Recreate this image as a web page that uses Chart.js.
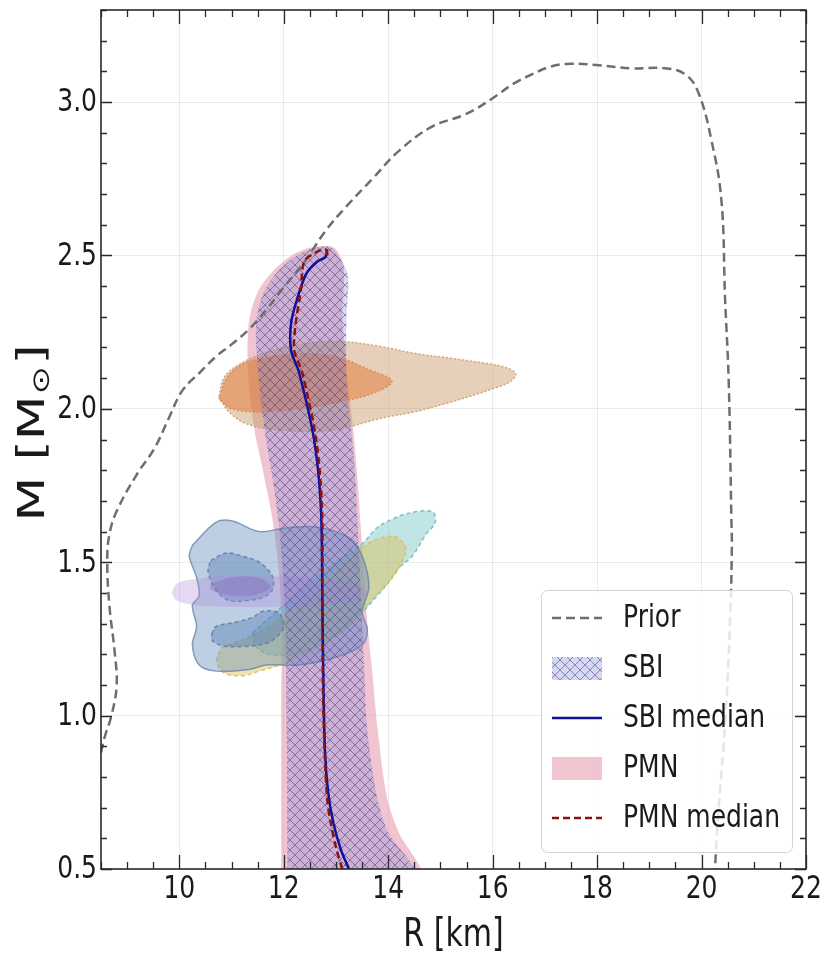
<!DOCTYPE html>
<html>
<head>
<meta charset="utf-8">
<script src="https://cdn.jsdelivr.net/npm/chart.js@4.4.1/dist/chart.umd.min.js"></script>
<style>
  html, body { margin: 0; padding: 0; background: #fff; }
</style>
</head>
<body>
<canvas id="mr" width="826" height="955"></canvas>
<script>
// --- Axis ticks ---
const xMajor = [10, 12, 14, 16, 18, 20, 22];
const yMajor = [0.5, 1.0, 1.5, 2.0, 2.5, 3.0];

// --- Curves, [R km, M Msun] ---
const priorCurve = [
  [8.5, 0.88], [8.57, 0.93], [8.7, 1.0], [8.8, 1.1], [8.76, 1.21], [8.66, 1.36], [8.62, 1.5],
  [8.66, 1.59], [8.81, 1.67], [9.2, 1.79], [9.52, 1.87], [9.8, 1.97], [10.06, 2.06], [10.4, 2.12],
  [10.7, 2.17], [11.0, 2.21], [11.34, 2.26], [11.7, 2.33], [11.97, 2.39], [12.4, 2.48], [12.8, 2.58],
  [13.2, 2.66], [13.7, 2.75], [14.2, 2.84], [14.84, 2.92], [15.48, 2.96], [15.98, 3.01], [16.4, 3.06],
  [16.75, 3.09], [17.1, 3.115], [17.5, 3.125], [18.03, 3.12], [18.67, 3.11], [19.3, 3.11],
  [19.69, 3.09], [19.94, 3.03], [20.19, 2.875], [20.38, 2.68], [20.45, 2.36], [20.52, 2.09],
  [20.57, 1.65], [20.58, 1.55], [20.55, 1.33], [20.46, 1.0], [20.32, 0.68], [20.25, 0.48]
];

const pmnLeft = [
  [11.95, 0.48], [11.95, 1.0], [11.95, 1.36], [11.82, 1.6], [11.6, 1.8], [11.45, 1.92], [11.32, 2.1],
  [11.33, 2.28], [11.5, 2.38], [11.8, 2.45], [12.15, 2.5], [12.5, 2.525], [12.85, 2.53]
];
const pmnRight = [
  [13.0, 2.52], [13.15, 2.46], [13.12, 2.3], [13.22, 2.1], [13.32, 1.95], [13.4, 1.8], [13.48, 1.6],
  [13.6, 1.3], [13.69, 1.15], [13.8, 0.95], [13.98, 0.73], [14.2, 0.62], [14.6, 0.48]
];
const sbiLeft = [
  [12.07, 0.48], [12.05, 1.0], [12.02, 1.36], [11.92, 1.6], [11.78, 1.78], [11.66, 1.9], [11.52, 2.1],
  [11.47, 2.28], [11.62, 2.38], [11.9, 2.45], [12.25, 2.5], [12.6, 2.525], [12.85, 2.53]
];
const sbiRight = [
  [12.95, 2.52], [13.22, 2.44], [13.2, 2.3], [13.2, 2.1], [13.28, 1.95], [13.36, 1.8], [13.42, 1.6],
  [13.5, 1.3], [13.54, 1.15], [13.6, 0.95], [13.79, 0.73], [14.0, 0.62], [14.5, 0.48]
];

const sbiMedian = [
  [13.25, 0.5], [13.1, 0.56], [12.95, 0.65], [12.85, 0.75], [12.79, 0.88], [12.76, 1.1], [12.74, 1.36],
  [12.71, 1.68], [12.58, 1.9], [12.29, 2.12], [12.14, 2.19], [12.14, 2.28], [12.26, 2.36],
  [12.43, 2.44], [12.64, 2.48], [12.8, 2.495], [12.83, 2.52]
];
const pmnMedian = [
  [13.12, 0.5], [13.0, 0.57], [12.9, 0.65], [12.83, 0.73], [12.78, 0.9], [12.75, 1.1], [12.74, 1.36],
  [12.73, 1.68], [12.62, 1.9], [12.35, 2.12], [12.2, 2.19], [12.23, 2.28], [12.33, 2.39],
  [12.39, 2.48], [12.62, 2.51], [12.8, 2.52], [12.85, 2.49]
];

// --- Observational contours ---
const orangeOuter = [
  [10.76, 2.04], [10.85, 2.1], [11.1, 2.14], [11.6, 2.18], [12.3, 2.21], [13.0, 2.22], [13.8, 2.205],
  [14.53, 2.18], [15.2, 2.165], [15.8, 2.15], [16.25, 2.135], [16.44, 2.115], [16.35, 2.09],
  [16.0, 2.065], [15.16, 2.02], [14.5, 1.99], [13.88, 1.97], [12.93, 1.93], [11.97, 1.93],
  [11.3, 1.95], [10.95, 1.99]
];
const orangeInner = [
  [10.76, 2.03], [10.9, 2.1], [11.2, 2.145], [11.6, 2.165], [12.3, 2.18], [13.0, 2.17], [13.6, 2.13],
  [14.07, 2.09], [13.7, 2.05], [13.0, 2.02], [12.3, 2.0], [11.5, 1.99], [11.0, 2.0]
];
const tealRegion = [
  [11.4, 1.27], [11.8, 1.33], [12.4, 1.42], [13.0, 1.5], [13.5, 1.56], [13.77, 1.61], [14.07, 1.64],
  [14.4, 1.66], [14.84, 1.665], [14.9, 1.63], [14.72, 1.59], [14.46, 1.52], [14.2, 1.48],
  [13.96, 1.425], [13.63, 1.36], [13.3, 1.3], [12.8, 1.24], [12.2, 1.2], [11.7, 1.2], [11.45, 1.23]
];
const yellowRegion = [
  [10.8, 1.22], [11.5, 1.27], [12.3, 1.36], [13.0, 1.47], [13.6, 1.56], [14.07, 1.585], [14.3, 1.56],
  [14.34, 1.535], [14.2, 1.48], [13.96, 1.425], [13.69, 1.38], [13.3, 1.3], [12.6, 1.22],
  [12.0, 1.17], [11.53, 1.145], [11.2, 1.13], [10.85, 1.14], [10.72, 1.18]
];
const blueOuter = [
  [10.25, 1.555], [10.7, 1.63], [11.0, 1.635], [11.53, 1.6], [11.97, 1.61], [12.62, 1.615],
  [13.25, 1.58], [13.5, 1.52], [13.63, 1.42], [13.5, 1.34], [13.6, 1.28], [13.5, 1.23], [13.0, 1.19],
  [12.29, 1.165], [11.66, 1.165], [11.34, 1.15], [10.7, 1.145], [10.38, 1.165], [10.25, 1.23],
  [10.33, 1.29], [10.25, 1.36], [10.38, 1.39], [10.33, 1.45], [10.19, 1.52]
];
const blueInnerTop = [
  [10.6, 1.505], [10.9, 1.53], [11.2, 1.52], [11.53, 1.5], [11.78, 1.455], [11.78, 1.41],
  [11.6, 1.385], [11.3, 1.375], [10.95, 1.375], [10.7, 1.41], [10.55, 1.47]
];
const blueInnerBottom = [
  [10.62, 1.265], [10.7, 1.29], [11.09, 1.305], [11.4, 1.32], [11.6, 1.34], [11.9, 1.335],
  [12.0, 1.29], [11.85, 1.255], [11.66, 1.235], [11.2, 1.225], [10.82, 1.228], [10.63, 1.245]
];
const violetOuter = [
  [9.85, 1.4], [9.95, 1.43], [10.3, 1.445], [10.8, 1.455], [11.5, 1.455], [12.3, 1.45], [13.0, 1.44],
  [13.5, 1.42], [13.6, 1.4], [13.4, 1.375], [12.8, 1.36], [12.0, 1.355], [11.0, 1.355], [10.3, 1.36],
  [9.95, 1.375]
];
const violetCore = [
  [10.6, 1.43], [11.0, 1.45], [11.5, 1.45], [11.75, 1.42], [11.5, 1.395], [11.0, 1.39], [10.6, 1.41]
];

const legendLabels = ['Prior', 'SBI', 'SBI median', 'PMN', 'PMN median'];

// --- Helpers ---
const pts = arr => arr.map(([x, y]) => ({ x, y }));
const ring = arr => pts(arr.concat([arr[0]]));
const band = (left, right) => ring(left.concat(right));
const FONT = "'DejaVu Sans', sans-serif";

function makeHatch() {
  const c = document.createElement('canvas');
  c.width = 10; c.height = 10;
  const g = c.getContext('2d');
  g.fillStyle = 'rgba(110,125,215,0.3)';
  g.fillRect(0, 0, 10, 10);
  g.strokeStyle = 'rgba(80,40,115,0.5)';
  g.lineWidth = 1;
  g.beginPath();
  g.moveTo(-1, -1); g.lineTo(11, 11);
  g.moveTo(11, -1); g.lineTo(-1, 11);
  g.stroke();
  return g.createPattern(c, 'repeat');
}
const hatch = makeHatch();

function region(label, data, fill, edge, dash, order, width) {
  return {
    label, data: ring(data), showLine: true, fill: 'shape',
    backgroundColor: fill, borderColor: edge, borderWidth: width === undefined ? 1.5 : width,
    borderDash: dash, tension: 0.35, pointRadius: 0, order
  };
}

// higher order is drawn first (underneath): PMN band, contours, SBI hatch, lines
const datasets = [
  {
    label: 'PMN', data: band(pmnLeft, pmnRight), showLine: true, fill: 'shape',
    backgroundColor: 'rgba(230,150,170,0.55)', borderWidth: 0, borderColor: 'rgba(0,0,0,0)',
    tension: 0.3, pointRadius: 0, order: 40
  },
  region('orangeOuter', orangeOuter, 'rgba(200,150,100,0.45)', 'rgba(205,160,110,0.9)', [2, 2], 30),
  region('orangeInner', orangeInner, 'rgba(225,120,55,0.5)', 'rgba(220,130,80,0.8)', [2, 2], 29),
  region('tealRegion', tealRegion, 'rgba(100,190,195,0.4)', 'rgba(110,180,190,0.85)', [4, 3], 28),
  region('yellowRegion', yellowRegion, 'rgba(220,190,80,0.45)', 'rgba(220,190,90,0.9)', [4, 3], 27),
  region('blueOuter', blueOuter, 'rgba(100,140,190,0.42)', 'rgba(100,130,170,0.75)', [], 26),
  region('blueInnerTop', blueInnerTop, 'rgba(80,120,175,0.4)', 'rgba(90,120,160,0.8)', [4, 3], 25),
  region('blueInnerBottom', blueInnerBottom, 'rgba(80,120,175,0.4)', 'rgba(90,120,160,0.8)', [4, 3], 25),
  region('violetOuter', violetOuter, 'rgba(175,135,215,0.32)', 'rgba(0,0,0,0)', [], 24, 0),
  region('violetCore', violetCore, 'rgba(130,90,185,0.32)', 'rgba(0,0,0,0)', [], 23, 0),
  {
    label: 'SBI', data: band(sbiLeft, sbiRight), showLine: true, fill: 'shape',
    backgroundColor: hatch, borderWidth: 0, borderColor: 'rgba(0,0,0,0)',
    tension: 0.3, pointRadius: 0, order: 10
  },
  {
    label: 'Prior', data: pts(priorCurve), showLine: true, fill: false,
    borderColor: '#6e6e6e', borderWidth: 2.5, borderDash: [9, 5],
    tension: 0.4, pointRadius: 0, order: 5
  },
  {
    label: 'SBI median', data: pts(sbiMedian), showLine: true, fill: false,
    borderColor: '#10109a', borderWidth: 2.5, tension: 0.3, pointRadius: 0, order: 3
  },
  {
    label: 'PMN median', data: pts(pmnMedian), showLine: true, fill: false,
    borderColor: '#8c1010', borderWidth: 2.5, borderDash: [7, 4], tension: 0.3, pointRadius: 0, order: 2
  }
];

// tall, narrow text like the reference's stretched figure
function tallText(ctx, txt, x, y, align, sy) {
  ctx.save();
  ctx.translate(x, y);
  ctx.scale(1, sy);
  ctx.textAlign = align;
  ctx.fillText(txt, 0, 0);
  ctx.restore();
}

// --- Plugins ---
const inwardTicks = {
  id: 'inwardTicks',
  afterDatasetsDraw(chart) {
    const { ctx, chartArea: a, scales: { x, y } } = chart;
    ctx.save();
    ctx.strokeStyle = '#2a2a2a';
    ctx.lineWidth = 1.3;
    ctx.beginPath();
    for (let i = 0; x.min + i * 0.5 <= x.max + 1e-9; i++) {
      const v = Math.round((x.min + i * 0.5) * 10) / 10;
      const px = Math.round(x.getPixelForValue(v)) + 0.5;
      const len = xMajor.includes(v) ? 14 : 7;
      ctx.moveTo(px, a.bottom); ctx.lineTo(px, a.bottom - len);
      ctx.moveTo(px, a.top); ctx.lineTo(px, a.top + len);
    }
    for (let i = 0; y.min + i * 0.1 <= y.max + 1e-9; i++) {
      const v = Math.round((y.min + i * 0.1) * 10) / 10;
      const py = Math.round(y.getPixelForValue(v)) + 0.5;
      const len = yMajor.includes(v) ? 11 : 6;
      ctx.moveTo(a.left, py); ctx.lineTo(a.left + len, py);
      ctx.moveTo(a.right, py); ctx.lineTo(a.right - len, py);
    }
    ctx.stroke();
    ctx.lineWidth = 1.6;
    ctx.strokeRect(a.left, a.top, a.right - a.left, a.bottom - a.top);

    // tick labels from the scales' own ticks
    ctx.fillStyle = '#1a1a1a';
    ctx.font = '25px ' + FONT;
    ctx.textBaseline = 'middle';
    x.ticks.forEach(t => tallText(ctx, String(t.value), x.getPixelForValue(t.value), a.bottom + 21, 'center', 1.28));
    y.ticks.forEach(t => tallText(ctx, t.value.toFixed(1), a.left - 4, y.getPixelForValue(t.value) + 1, 'right', 1.28));
    ctx.restore();
  }
};

const legendAndTitles = {
  id: 'legendAndTitles',
  afterDraw(chart) {
    const { ctx, chartArea: a } = chart;
    const byLabel = l => chart.data.datasets.find(d => d.label === l);
    ctx.save();

    // legend box
    const w = 251, h = 262;
    const bx = a.right - 14 - w, by = a.bottom - 17 - h;
    ctx.fillStyle = 'rgba(255,255,255,0.82)';
    ctx.strokeStyle = '#d2d2d2';
    ctx.lineWidth = 1;
    ctx.beginPath();
    ctx.roundRect(bx + 0.5, by + 0.5, w, h, 6);
    ctx.fill(); ctx.stroke();

    ctx.font = '25px ' + FONT;
    ctx.textBaseline = 'middle';
    legendLabels.forEach((lab, i) => {
      const ds = byLabel(lab);
      const cy = by + 28 + i * 50;
      const x0 = bx + 11, x1 = bx + 61;
      if (ds.fill === 'shape') {
        ctx.fillStyle = ds.backgroundColor;
        ctx.fillRect(x0, cy - 11, x1 - x0, 23);
      } else {
        ctx.strokeStyle = ds.borderColor;
        ctx.lineWidth = ds.borderWidth;
        ctx.setLineDash(ds.borderDash || []);
        ctx.beginPath(); ctx.moveTo(x0, cy); ctx.lineTo(x1, cy); ctx.stroke();
        ctx.setLineDash([]);
      }
      ctx.fillStyle = '#1a1a1a';
      tallText(ctx, lab, bx + 82, cy + 1, 'left', 1.25);
    });

    // x title
    ctx.fillStyle = '#1a1a1a';
    ctx.font = '30px ' + FONT;
    ctx.textBaseline = 'alphabetic';
    tallText(ctx, 'R [km]', (a.left + a.right) / 2, 946, 'center', 1.3);

    // y title with subscript sun symbol
    ctx.save();
    ctx.translate(34, 433);
    ctx.rotate(-Math.PI / 2);
    ctx.scale(1.4, 1);
    ctx.textBaseline = 'middle';
    ctx.textAlign = 'left';
    const big = '37px ' + FONT, small = '24px ' + FONT;
    ctx.font = big; const w1 = ctx.measureText('M [M').width; const w3 = ctx.measureText(']').width;
    ctx.font = small; const w2 = ctx.measureText('\u2299').width + 2;
    const sx = -(w1 + w2 + w3) / 2;
    ctx.font = big; ctx.fillText('M [M', sx, 0);
    ctx.font = small; ctx.fillText('\u2299', sx + w1 + 1, 9);
    ctx.font = big; ctx.fillText(']', sx + w1 + w2, 0);
    ctx.restore();

    ctx.restore();
  }
};

// --- Chart ---
Chart.defaults.font.family = FONT;
new Chart(document.getElementById('mr'), {
  type: 'scatter',
  data: { datasets },
  options: {
    responsive: false,
    animation: false,
    layout: { padding: { top: 10, right: 20, left: 0, bottom: 0 } },
    plugins: { legend: { display: false }, tooltip: { enabled: false } },
    scales: {
      x: {
        type: 'linear', min: 8.5, max: 22,
        afterBuildTicks: s => { s.ticks = xMajor.map(v => ({ value: v })); },
        afterFit: s => { s.height = 86; s.paddingLeft = 0; s.paddingRight = 0; },
        ticks: { display: false },
        grid: { color: 'rgba(0,0,0,0.08)', lineWidth: 1, drawTicks: false },
        border: { display: false }
      },
      y: {
        type: 'linear', min: 0.5, max: 3.3,
        afterBuildTicks: s => { s.ticks = yMajor.map(v => ({ value: v })); },
        afterFit: s => { s.width = 101; s.paddingTop = 0; s.paddingBottom = 0; },
        ticks: { display: false },
        grid: { color: 'rgba(0,0,0,0.08)', lineWidth: 1, drawTicks: false },
        border: { display: false }
      }
    }
  },
  plugins: [inwardTicks, legendAndTitles]
});
</script>
</body>
</html>
